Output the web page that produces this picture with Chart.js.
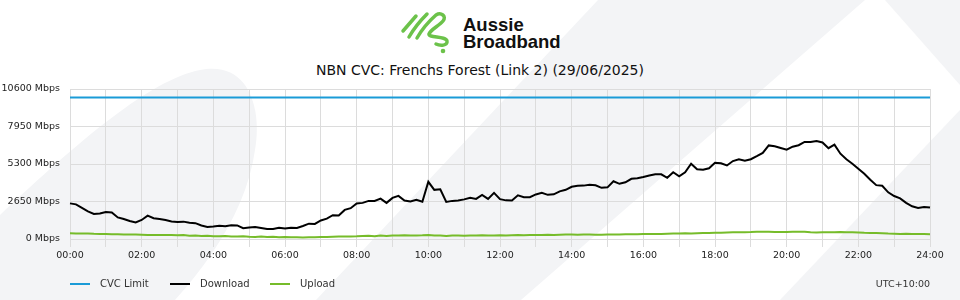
<!DOCTYPE html>
<html>
<head>
<meta charset="utf-8">
<script src="https://cdn.jsdelivr.net/npm/chart.js@4.4.1/dist/chart.umd.min.js"></script>
<style>
  html, body { margin: 0; padding: 0; background: #fff; }
  #wrap { position: relative; width: 960px; height: 300px; overflow: hidden; font-family: "DejaVu Sans", sans-serif; }
  #bg, #logo { position: absolute; left: 0; top: 0; }
  #chartBox { position: absolute; left: 0; top: 0; width: 960px; height: 300px; }
  .logoText { position: absolute; left: 463px; top: 17px; font-family: "Liberation Sans", Arial, sans-serif; font-weight: bold; font-size: 18.5px; line-height: 16.5px; color: #111; }
  #title { position: absolute; left: 0; width: 960px; top: 61px; text-align: center; font-size: 14px; line-height: 18px; color: #111; }
  #legend { position: absolute; left: 70px; top: 277px; font-size: 10px; color: #333; }
  .item { position: absolute; top: 0; white-space: nowrap; }
  .item span.sw { position: absolute; left: 0; top: 6px; width: 20px; height: 2px; }
  .item span.tx { position: absolute; left: 30px; top: 0; line-height: 14px; }
  #utc { position: absolute; right: 30px; top: 277px; font-size: 9.5px; line-height: 14px; color: #333; }
</style>
</head>
<body>
<div id="wrap">
  <svg id="bg" width="960" height="300">
    <g fill="#f3f4f6">
      <path d="M0,300 L0,215 C80,140 150,80 200,70 C250,60 262,110 255,150 C248,200 220,250 175,300 Z"/>
      <polygon points="316,300 598,0 865,0 521,300"/>
      <polygon points="780,300 960,110 960,300"/>
      <polygon points="885,0 960,0 960,85"/>
    </g>
  </svg>
  <svg id="logo" width="960" height="60">
    <g fill="none" stroke="#6cc24a" stroke-width="3.5" stroke-linecap="round" stroke-linejoin="round">
      <path d="M403,31 L416,16"/>
      <path d="M409,37 C413,30 419,22 427,14"/>
      <path d="M417,38 C421,31 428,22 436,15 C441,12 447,16 443,21 C439,26 431,29 429,34 C428,38 446,36 447,41 C448,46 440,46 436,44"/>
    </g>
    <circle cx="443" cy="51" r="2.3" fill="#6cc24a"/>
  </svg>
  <div class="logoText">Aussie<br>Broadband</div>
  <div id="title">NBN CVC: Frenchs Forest (Link 2) (29/06/2025)</div>
  <div id="chartBox"><canvas id="myChart" width="960" height="300"></canvas></div>
  <div id="legend">
    <div class="item" style="left:0px"><span class="sw" style="background:#1a9bd7"></span><span class="tx">CVC Limit</span></div>
    <div class="item" style="left:100px"><span class="sw" style="background:#000"></span><span class="tx">Download</span></div>
    <div class="item" style="left:200px"><span class="sw" style="background:#76bc2a"></span><span class="tx">Upload</span></div>
  </div>
  <div id="utc">UTC+10:00</div>
</div>
<script>
// 10 minute samples, 00:00 .. 24:00
var times = [];
for (var m = 0; m <= 24 * 60; m += 10) {
  var hh = Math.floor(m / 60), mm = m % 60;
  times.push((hh < 10 ? "0" : "") + hh + ":" + (mm < 10 ? "0" : "") + mm);
}

var cvcLimit = 10000;

var download = [
  2517, 2446, 2198, 1950, 1773, 1808, 1914,
  1879, 1524, 1418, 1276, 1170, 1347,
  1652, 1468, 1418, 1347, 1241, 1205,
  1227, 1149, 1120, 957, 851, 886,
  936, 900, 971, 957, 766, 808,
  844, 780, 702, 709, 794, 737,
  794, 780, 922, 1085, 1064, 1312,
  1439, 1680, 1666, 2056, 2177, 2517,
  2552, 2694, 2694, 2850, 2552, 2907,
  3049, 2715, 2652, 2765, 2630, 4041,
  3474, 3510, 2623, 2694, 2715, 2801,
  2907, 2836, 3120, 2836, 3261, 2815,
  2730, 2715, 3084, 2957, 2957, 3148,
  3261, 3120, 3155, 3368, 3474, 3687,
  3758, 3772, 3829, 3793, 3616, 3651,
  4077, 3900, 4006, 4254, 4289, 4375,
  4481, 4580, 4573, 4325, 4715, 4431,
  4715, 5318, 4928, 4892, 4998, 5388,
  5353, 5197, 5509, 5629, 5530, 5637,
  5849, 6083, 6615, 6558, 6431, 6310,
  6523, 6629, 6856, 6863, 6920, 6821,
  6416, 6665, 6027, 5637, 5318, 4963,
  4609, 4183, 3807, 3758, 3297, 3035,
  2871, 2552, 2311, 2198, 2269, 2219
];

var upload = [
  400, 390, 380, 395, 370, 360, 350,
  340, 330, 320, 315, 310, 300,
  290, 285, 280, 275, 280, 270,
  290, 230, 250, 220, 230, 200,
  190, 210, 180, 170, 190, 160,
  150, 170, 140, 160, 130, 140,
  120, 130, 110, 120, 130, 140,
  150, 160, 170, 170, 180, 190,
  210, 230, 200, 240, 220, 250,
  240, 270, 240, 250, 260, 280,
  240, 250, 220, 250, 240, 230,
  240, 250, 260, 250, 240, 260,
  240, 260, 280, 270, 290, 290,
  290, 300, 290, 300, 310, 310,
  300, 320, 310, 300, 300, 310,
  320, 320, 330, 330, 340, 350,
  350, 360, 350, 370, 380, 390,
  400, 390, 410, 420, 430, 440,
  450, 460, 470, 470, 480, 490,
  520, 510, 520, 490, 500, 500,
  510, 520, 510, 470, 460, 480,
  480, 470, 490, 480, 470, 460,
  440, 430, 420, 400, 380, 370,
  360, 370, 350, 360, 350, 340
];

var yTicks = [0, 2650, 5300, 7950, 10600];

new Chart("myChart", {
  type: "line",
  data: {
    labels: times,
    datasets: [{
      label: "CVC Limit",
      data: [{ x: times[0], y: cvcLimit }, { x: times[times.length - 1], y: cvcLimit }],
      borderColor: "#1a9bd7",
      borderWidth: 2
    }, {
      label: "Download",
      data: download,
      borderColor: "#000",
      borderWidth: 2
    }, {
      label: "Upload",
      data: upload,
      borderColor: "#76bc2a",
      borderWidth: 2
    }]
  },
  options: {
    responsive: false,
    animation: false,
    elements: { point: { radius: 0 }, line: { tension: 0 } },
    layout: { padding: { top: 89, right: 30, bottom: 0, left: 0 } },
    plugins: {
      legend: { display: false },
      tooltip: { enabled: false },
      title: { display: false }
    },
    scales: {
      x: {
        offset: false,
        grid: { color: "#dcdcdc", tickLength: 8 },
        border: { color: "#dcdcdc" },
        afterFit: function (s) { s.height = 61; },
        ticks: {
          autoSkip: false,
          maxRotation: 0,
          color: "#222",
          font: { family: "DejaVu Sans", size: 9.5 },
          callback: function (v, i) {
            if (i % 12 === 0) return times[i];
            if (i % 6 === 0) return "";
            return null;
          }
        }
      },
      y: {
        min: 0,
        max: 10600,
        afterFit: function (s) { s.width = 70; },
        afterBuildTicks: function (s) { s.ticks = yTicks.map(function (v) { return { value: v }; }); },
        grid: { color: "#dcdcdc", drawTicks: false },
        border: { display: false },
        ticks: {
          padding: 10,
          color: "#222",
          font: { family: "DejaVu Sans", size: 9.5 },
          callback: function (v) { return v + " Mbps"; }
        }
      }
    }
  }
});
</script>
</body>
</html>
